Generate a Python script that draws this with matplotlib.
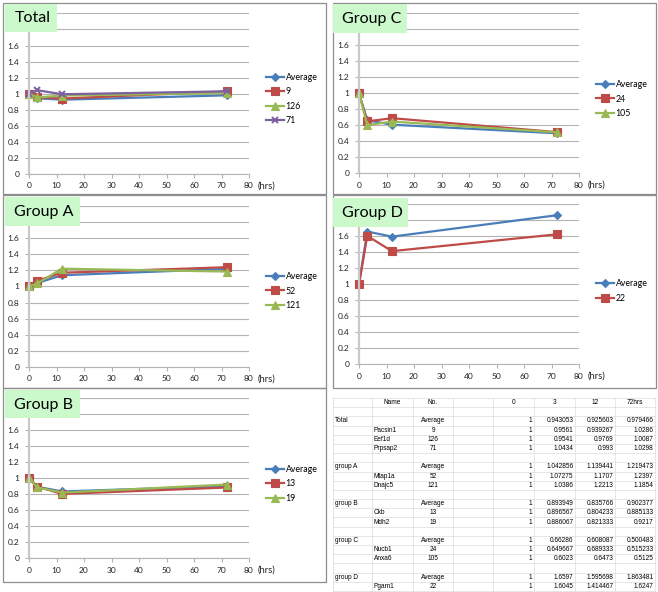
import matplotlib.pyplot as plt
from matplotlib.patches import Rectangle

W, H = 658, 592

# data (fold change vs time)
hours = [0, 3, 12, 72]
col_headers = ["0", "3", "12", "72hrs"]

total_labels = ["Average", "9", "126", "71"]
total_genes = ["Pacsin1", "Eef1d", "Prpsap2"]
total_avg = [1, 0.943053, 0.925603, 0.979466]
total_9 = [1, 0.9561, 0.939267, 1.0286]
total_126 = [1, 0.9541, 0.9769, 1.0087]
total_71 = [1, 1.0434, 0.993, 1.0298]

a_labels = ["Average", "52", "121"]
a_genes = ["Mtap1a", "Dnajc5"]
a_avg = [1, 1.042856, 1.139441, 1.219473]
a_52 = [1, 1.07275, 1.1707, 1.2397]
a_121 = [1, 1.0386, 1.2213, 1.1854]

b_labels = ["Average", "13", "19"]
b_genes = ["Ckb", "Mdh2"]
b_avg = [1, 0.893949, 0.835766, 0.902377]
b_13 = [1, 0.896567, 0.804233, 0.885133]
b_19 = [1, 0.886067, 0.821333, 0.9217]

c_labels = ["Average", "24", "105"]
c_genes = ["Nucb1", "Anxa6"]
c_avg = [1, 0.66286, 0.608087, 0.500483]
c_24 = [1, 0.649667, 0.689333, 0.515233]
c_105 = [1, 0.6023, 0.6473, 0.5125]

d_labels = ["Average", "22"]
d_genes = ["Pgam1"]
d_avg = [1, 1.6597, 1.595698, 1.863481]
d_22 = [1, 1.6045, 1.414467, 1.6247]

COLORS = ["#4a7ebb", "#be4b48", "#98b954", "#7d60a0"]
MARKERS = [("D", 3.6), ("s", 5.2), ("^", 5.6), ("x", 5.0)]
GREEN_BOX = "#ccf9cc"
FONT = "Lato"

# panel geometry in pixels: box, axes left/right, y of 2.0 and of 0
panels = [
    ("Total", [total_avg, total_9, total_126, total_71], total_labels,
     (3, 3, 326, 194), (29, 249, 13.4, 174.0), (5, 4, 57, 32)),
    ("Group A", [a_avg, a_52, a_121], a_labels,
     (3, 195, 326, 388), (29, 249, 206.2, 366.7), (5, 197, 80, 226)),
    ("Group B", [b_avg, b_13, b_19], b_labels,
     (3, 388, 326, 582), (29, 249, 398.3, 558.3), (5, 390, 80, 418)),
    ("Group C", [c_avg, c_24, c_105], c_labels,
     (333, 3, 656, 194), (359, 579, 13.4, 173.3), (333, 4, 407, 33)),
    ("Group D", [d_avg, d_22], d_labels,
     (333, 195, 656, 388), (359, 579, 204.3, 364.3), (333, 198, 408, 227)),
]

fig = plt.figure(figsize=(W / 100, H / 100), dpi=100)

bg = fig.add_axes([0, 0, 1, 1], zorder=-1)
bg.set_xlim(0, W)
bg.set_ylim(H, 0)
bg.axis("off")

top = fig.add_axes([0, 0, 1, 1], zorder=5)
top.set_xlim(0, W)
top.set_ylim(H, 0)
top.axis("off")
top.patch.set_alpha(0)

for title, series, labels, box, ax_px, tbox in panels:
    bx0, by0, bx1, by1 = box
    bg.add_patch(Rectangle((bx0, by0), bx1 - bx0, by1 - by0, fill=False,
                           edgecolor="#8e8e8e", lw=0.9))

    x0, x1, yt, yb = ax_px
    ax = fig.add_axes([x0 / W, 1 - yb / H, (x1 - x0) / W, (yb - yt) / H])
    ax.patch.set_alpha(0)
    ax.set_xlim(0, 80)
    ax.set_ylim(0, 2.0)
    ax.set_xticks(range(0, 81, 10))
    yt_vals = [i * 0.2 for i in range(11)]
    ax.set_yticks(yt_vals)
    # 1.8 and 2 sit under the title box in the original
    ax.set_yticklabels(["%g" % round(v, 1) if v < 1.7 else "" for v in yt_vals])
    ax.grid(axis="y", color="#b4b4b4", lw=0.8)
    ax.set_axisbelow(True)
    for s in ["top", "right"]:
        ax.spines[s].set_visible(False)
    ax.spines["left"].set_color("#c8c8c8")
    ax.spines["left"].set_linewidth(1.6)
    ax.spines["bottom"].set_color("#b4b4b4")
    ax.spines["bottom"].set_linewidth(0.8)
    ax.tick_params(axis="both", colors="#b4b4b4", labelcolor="#222222",
                   labelsize=6, length=3, width=0.8)
    ax.tick_params(axis="y", pad=4)
    ax.tick_params(axis="x", pad=3)
    for lab in ax.get_xticklabels() + ax.get_yticklabels():
        lab.set_family(FONT)

    handles = []
    for i, vals in enumerate(series):
        m, ms = MARKERS[i]
        h, = ax.plot(hours, vals, color=COLORS[i], lw=1.6, marker=m,
                     markersize=ms, markerfacecolor=COLORS[i],
                     markeredgecolor=COLORS[i], mew=1.4 if m == "x" else 0.8,
                     clip_on=False)
        handles.append(h)

    ax.legend(handles, labels, loc="center left",
              bbox_to_anchor=((bx0 + 263) / W, 1 - (by0 + 96) / H),
              bbox_transform=fig.transFigure, frameon=False,
              prop={"family": FONT, "size": 6.3}, handlelength=2.1,
              handletextpad=0.15, labelspacing=0.62, borderpad=0,
              borderaxespad=0)

    bg.text(bx0 + 255, yb + 12, "(hrs)", fontsize=6.8, family=FONT,
            va="center", ha="left", color="#222222")

    tx0, ty0, tx1, ty1 = tbox
    top.add_patch(Rectangle((tx0, ty0), tx1 - tx0, ty1 - ty0,
                            facecolor=GREEN_BOX, edgecolor="none"))
    top.text(tx0 + 9.5, (ty0 + ty1) / 2 + 0.5, title, fontsize=11.5,
             family=FONT, va="center", ha="left", color="black")

# table
col_x = [333, 372, 413, 453, 493, 534, 575, 615, 655]
row_top, row_bot, n_rows = 398, 591, 21
row_h = (row_bot - row_top) / n_rows

groups = [
    ("Total", total_genes, total_labels, [total_avg, total_9, total_126, total_71]),
    ("group A", a_genes, a_labels, [a_avg, a_52, a_121]),
    ("group B", b_genes, b_labels, [b_avg, b_13, b_19]),
    ("group C", c_genes, c_labels, [c_avg, c_24, c_105]),
    ("group D", d_genes, d_labels, [d_avg, d_22]),
]

rows = [["", "Name", "No.", ""] + col_headers, None]
for gi, (gname, genes, labels, series) in enumerate(groups):
    rows.append([gname, "", labels[0], ""] + [str(v) for v in series[0]])
    for gene, lab, vals in zip(genes, labels[1:], series[1:]):
        rows.append(["", gene, lab, ""] + [str(v) for v in vals])
    if gi < len(groups) - 1:
        rows.append(None)

for i in range(n_rows + 1):
    y = row_top + i * row_h
    bg.plot([col_x[0], col_x[-1]], [y, y], color="#dcdcdc", lw=0.5)
for x in col_x:
    bg.plot([x, x], [row_top, row_bot], color="#dcdcdc", lw=0.5)

tfont = dict(fontsize=4.7, family="Liberation Sans", va="center", color="black")
for r, row in enumerate(rows):
    if row is None:
        continue
    yc = row_top + (r + 0.5) * row_h
    for c, txt in enumerate(row):
        if not txt:
            continue
        cl, cr = col_x[c], col_x[c + 1]
        if r == 0 or c == 2:
            bg.text((cl + cr) / 2, yc, txt, ha="center", **tfont)
        elif c <= 1:
            bg.text(cl + 2, yc, txt, ha="left", **tfont)
        else:
            bg.text(cr - 1.5, yc, txt, ha="right", **tfont)

fig.savefig("out.png", dpi=100)
